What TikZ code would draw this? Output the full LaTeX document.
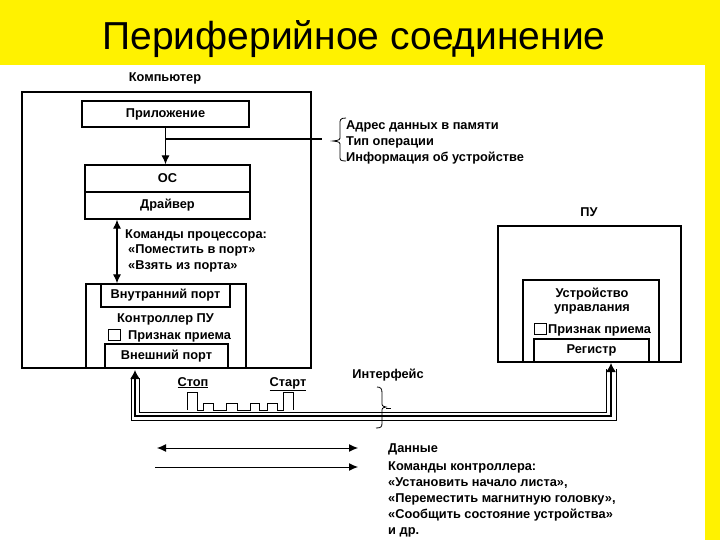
\documentclass[tikz,border=0pt]{standalone}
\usepackage{fontspec}
\setmainfont{Liberation Sans}
\usetikzlibrary{arrows.meta}
\begin{document}
\begin{tikzpicture}[x=1pt,y=-1pt]
\tikzset{
  bx/.style={draw,line width=1.3pt,inner sep=0pt},
  lbl/.style={font=\fontsize{12.8}{16}\selectfont\bfseries,inner sep=0pt},
  tipd/.style={-{Latex[length=9pt,width=8pt]}},
  tipdd/.style={{Latex[length=9pt,width=8pt]}-{Latex[length=9pt,width=8pt]}},
  chk/.style={draw,line width=1pt,inner sep=0pt,minimum width=12,minimum height=11},
  wire/.style={line width=0.9pt},
}
\useasboundingbox (0,0) rectangle (720,540);
\fill[yellow] (0,0) rectangle (720,540);
\fill[white] (0,65) rectangle (705,540);
\node[font=\fontsize{39}{45}\selectfont,anchor=base,inner sep=0pt] (title) at (354,50) {Периферийное соединение};

% Computer
\node[bx,minimum width=289,minimum height=276] (comp) at (166.5,230) {};
\node[lbl,anchor=base] (compl) at (165,82) {Компьютер};
\node[bx,lbl,minimum width=167,minimum height=26] (app) at (165.5,114) {Приложение};
\node[bx,lbl,minimum width=165,minimum height=27] (os) at (167.5,178.5) {ОС};
\node[bx,lbl,minimum width=165,minimum height=27] (drv) at (167.5,205.5) {Драйвер};
\draw[tipd,line width=1.1pt] (app.south) -- (app.south |- os.north);
\coordinate (addrend) at (322,139);
\draw[line width=1.1pt] (app.south |- addrend) -- (addrend);
\draw[line width=0.8pt] (346,118) .. controls (340,118) and (340,120) .. (340,124) -- (340,136)
  .. controls (340,140) .. (333,141) .. controls (340,142) .. (340,146) -- (340,156)
  .. controls (340,160) and (340,161) .. (346,161);
\node[lbl,anchor=base west] (a1) at (346,130) {Адрес данных в памяти};
\node[lbl,anchor=base west] (a2) at (346,146) {Тип операции};
\node[lbl,anchor=base west] (a3) at (346,162) {Информация об устройстве};

% controller
\node[bx,minimum width=160,minimum height=84] (ctrl) at (166,326) {};
\node[bx,lbl,fill=white,minimum width=129,minimum height=23] (inport) at (165.5,295.5) {Внутранний порт};
\node[bx,lbl,fill=white,minimum width=123,minimum height=24] (outport) at (166.5,356) {Внешний порт};
\node[lbl,anchor=base] (ctrll) at (165.5,322) {Контроллер ПУ};
\node[chk] (chk1) at (114.5,335) {};
\node[lbl,anchor=base west] (pr1) at (128,339) {Признак приема};
\draw[tipdd,line width=1.1pt] (drv.south -| 117,0) -- (117,0 |- ctrl.north);
\node[lbl,anchor=base west] (c1) at (125,238) {Команды процессора:};
\node[lbl,anchor=base west] (c2) at (128,254) {«Поместить в порт»};
\node[lbl,anchor=base west] (c3) at (128,269) {«Взять из порта»};

% PU
\node[bx,minimum width=183,minimum height=136] (pu) at (589.5,294) {};
\node[lbl,anchor=base] (pul) at (589,217) {ПУ};
\node[bx,minimum width=136,minimum height=82] (cu) at (591,321) {};
\node[lbl,anchor=base] (cu1) at (592,297) {Устройство};
\node[lbl,anchor=base] (cu2) at (592,311) {управлания};
\node[chk] (chk2) at (540,328.5) {};
\node[lbl,anchor=base west] (pr2) at (548,333) {Признак приема};
\node[bx,lbl,minimum width=115,minimum height=23] (reg) at (591.5,350.5) {Регистр};

% cable
\coordinate (cl) at (135,370);
\coordinate (cr) at (611,363);
\draw[line width=1.5pt,{Latex[length=9pt,width=10pt]}-{Latex[length=9pt,width=10pt]}] (cl) |- (611,416) -- (cr);
\draw[wire] (131,378) |- (616,420) -- (616,369);
\draw[wire] (139.5,378) |- (606.5,412) -- (606.5,369);

% signal
\draw[line width=1pt] (187,410) -- (187,392) -- (197,392) -- (197,410) -- (203,410) -- (203,403) -- (213,403) -- (213,410)
 -- (226,410) -- (226,403) -- (237,403) -- (237,410) -- (250,410) -- (250,403) -- (259,403) -- (259,410)
 -- (267,410) -- (267,403) -- (277,403) -- (277,410) -- (283,410) -- (283,392) -- (293,392) -- (293,410);
\node[lbl,anchor=base] (stop) at (193,386) {\underline{Стоп}};
\node[lbl,anchor=base] (start) at (288,386) {\underline{Старт}};
\node[lbl,anchor=base] (intf) at (388,378) {Интерфейс};
\draw[line width=0.8pt] (377,387) .. controls (381,387) and (382,389) .. (382,393) -- (382,402)
  .. controls (382,406) .. (386,407) .. controls (382,408) .. (382,412) -- (382,423)
  .. controls (382,427) and (381,428) .. (376,428);
\draw[line width=1pt] (386,408) -- (391,408);

% legend
\coordinate (d1) at (157,448);
\coordinate (d2) at (358,448);
\draw[tipdd,line width=1pt] (d1) -- (d2);
\coordinate (k1) at (155,467);
\coordinate (k2) at (358,467);
\draw[tipd,line width=1pt] (k1) -- (k2);
\node[lbl,anchor=base west] (dat) at (388,452) {Данные};
\node[lbl,anchor=base west] (k1t) at (388,470) {Команды контроллера:};
\node[lbl,anchor=base west] (k2t) at (388,486) {«Установить начало листа»,};
\node[lbl,anchor=base west] (k3t) at (388,502) {«Переместить магнитную головку»,};
\node[lbl,anchor=base west] (k4t) at (388,518) {«Сообщить состояние устройства»};
\node[lbl,anchor=base west] (k5t) at (388,534) {и др.};
\end{tikzpicture}
\end{document}
